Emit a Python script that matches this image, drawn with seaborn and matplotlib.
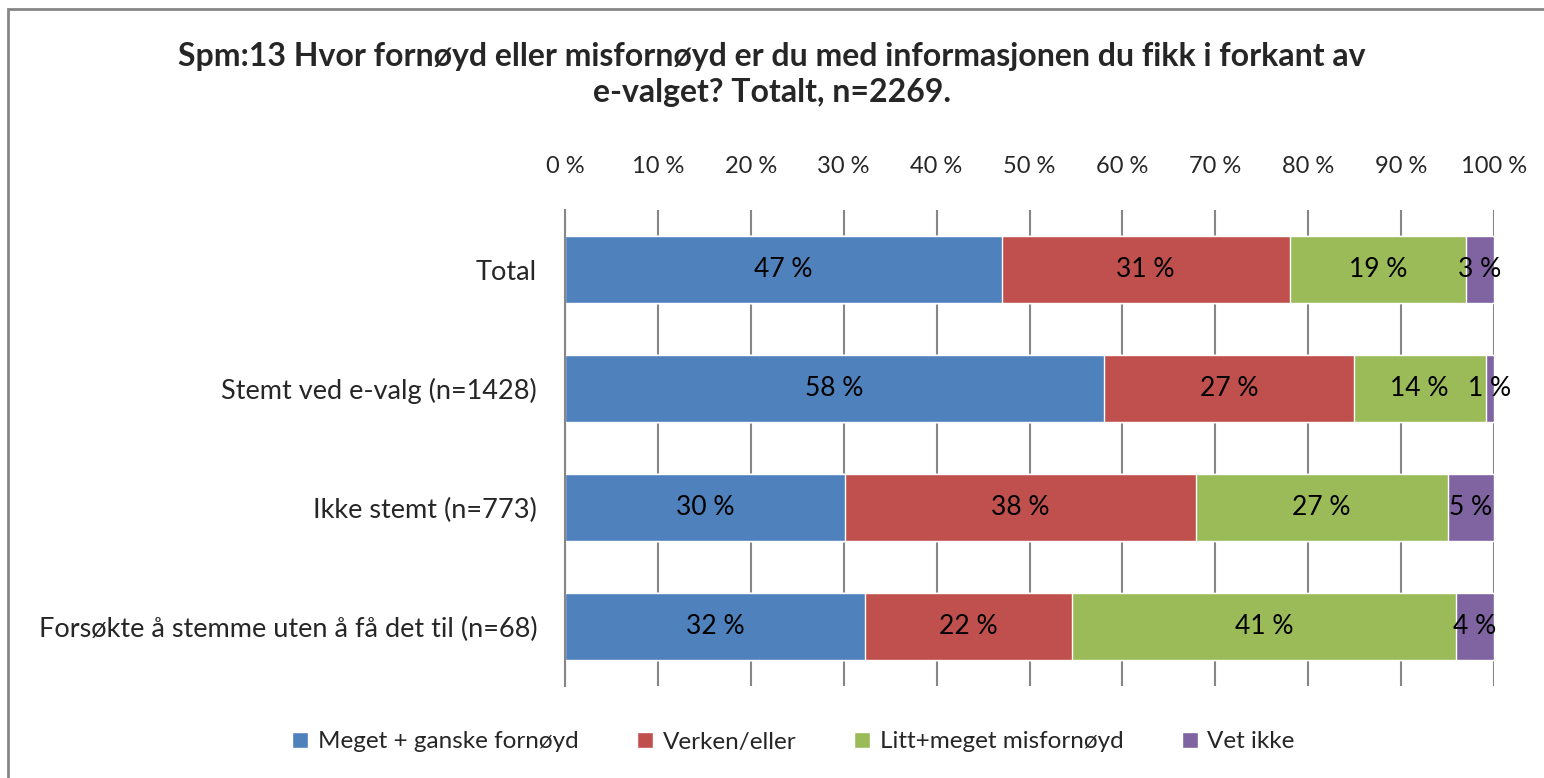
import numpy as np
import pandas as pd
import matplotlib
matplotlib.use('Agg')
import matplotlib.pyplot as plt
from matplotlib.patches import Rectangle, Patch
import seaborn as sns

# data (percent per group)
groups = ["Total", "Stemt ved e-valg (n=1428)", "Ikke stemt (n=773)",
          "Forsøkte å stemme uten å få det til (n=68)"]
series = ["Meget + ganske fornøyd", "Verken/eller", "Litt+meget misfornøyd", "Vet ikke"]
fornoyd = [47.0, 58.0, 30.1, 32.3]
verken = [31.0, 26.9, 37.8, 22.3]
misfornoyd = [19.0, 14.2, 27.1, 41.3]
vet_ikke = [3.0, 0.9, 5.0, 4.1]
ticks = [0, 10, 20, 30, 40, 50, 60, 70, 80, 90, 100]

COLORS = ["#4F81BD", "#C0504D", "#9BBB59", "#8064A2"]
title = "Spm:13 Hvor fornøyd eller misfornøyd er du med informasjonen du fikk i forkant av\ne-valget? Totalt, n=2269."

sns.set_style("white")
plt.rcParams['font.family'] = ['Lato', 'DejaVu Sans']

df = pd.DataFrame({"group": groups, series[0]: fornoyd, series[1]: verken,
                   series[2]: misfornoyd, series[3]: vet_ikke})
cum = df[series].cumsum(axis=1)

fig = plt.figure(figsize=(15.44, 7.78), dpi=100)
ax = fig.add_axes([565 / 1544, 1 - 686 / 778, (1494 - 565) / 1544, (686 - 210) / 778])

# stacked bars: draw cumulative totals from the last series to the first
for s, c in reversed(list(zip(series, COLORS))):
    sns.barplot(x=cum[s], y=df["group"], orient="h", color=c, width=0.57,
                saturation=1, ax=ax, zorder=2)

# segment labels
for s in series:
    centers = cum[s] - df[s] / 2
    for i, (xc, v) in enumerate(zip(centers, df[s])):
        ax.text(xc, i, f"{v:.0f} %", ha="center", va="center", fontsize=19, color="black", zorder=3)

ax.set_xlim(0, 100)
ax.set_ylim(3.5, -0.5)
ax.set_xticks(ticks)
ax.set_xticklabels([f"{t} %" for t in ticks], fontsize=17)
ax.xaxis.tick_top()
ax.tick_params(axis="x", length=0, pad=24)
ax.tick_params(axis="y", length=0, labelsize=19.5, pad=20)
ax.set_xlabel("")
ax.set_ylabel("")
ax.grid(axis="x", color="#868686", linewidth=1.5, zorder=0)
ax.set_axisbelow(True)
for side in ["top", "right", "bottom"]:
    ax.spines[side].set_visible(False)
ax.spines["left"].set_color("#868686")
ax.spines["left"].set_linewidth(1.5)

handles = [Patch(facecolor=c, label=s) for s, c in zip(series, COLORS)]
fig.legend(handles=handles, loc="center", bbox_to_anchor=(0.514, 1 - 742 / 778), ncol=4,
           frameon=False, fontsize=17.5, handlelength=0.65, handleheight=0.65,
           handletextpad=0.4, columnspacing=2.4)

fig.suptitle(title, fontsize=23, fontweight="bold", x=0.50, y=1 - 42 / 778, va="top",
             linespacing=1.3)

fig.patches.append(Rectangle((8 / 1544, -0.05), 1.1, 1 - 9 / 778 + 0.05, transform=fig.transFigure,
                             fill=False, edgecolor="#868686", linewidth=2))

fig.savefig("out.png", dpi=100)
